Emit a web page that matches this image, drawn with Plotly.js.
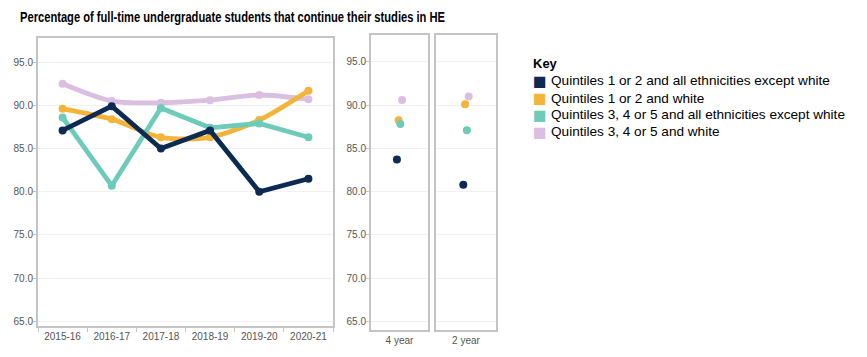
<!DOCTYPE html>
<html>
<head>
<meta charset="utf-8">
<script src="https://cdn.plot.ly/plotly-3.0.1.min.js"></script>
<style>html,body{margin:0;padding:0;background:#fff;}</style>
</head>
<body>
<div id="chart" style="width:867px;height:357px;"></div>
<script>
const years = ["2015-16","2016-17","2017-18","2018-19","2019-20","2020-21"];
const periods = ["4 year","2 year"];
const seriesNames = [
  "Quintiles 1 or 2 and all ethnicities except white",
  "Quintiles 1 or 2 and white",
  "Quintiles 3, 4 or 5 and all ethnicities except white",
  "Quintiles 3, 4 or 5 and white"
];
const colors = ["#0c2a52","#f4b43a","#6dcbb9","#dbbfe0"];

const q12NonWhite = [87.1, 89.9, 85.0, 87.1, 80.0, 81.5];
const q12White    = [89.6, 88.4, 86.3, 86.3, 88.3, 91.7];
const q345NonWhite= [88.6, 80.7, 89.7, 87.4, 87.9, 86.3];
const q345White   = [92.5, 90.5, 90.3, 90.6, 91.2, 90.7];

const fourYear = [83.7, 88.25, 87.8, 90.6];
const twoYear  = [80.8, 90.1, 87.1, 91.0];

const yearly = [q12NonWhite, q12White, q345NonWhite, q345White];
const shapes = ["linear","spline","linear","spline"];
const drawOrder = [3,1,2,0];

const traces = [];
drawOrder.forEach(i => {
  traces.push({
    type:"scatter", mode:"lines+markers", x: years, y: yearly[i],
    xaxis:"x", yaxis:"y", showlegend:false, offsetgroup:"main",
    line:{color:colors[i], width:4.8, shape:shapes[i], smoothing:0.8},
    marker:{color:colors[i], size:8},
    hoverinfo:"x+y", name: seriesNames[i]
  });
});
[[fourYear,"x2","y2",periods[0]],[twoYear,"x3","y3",periods[1]]].forEach(([vals,xa,ya,p]) => {
  vals.forEach((v,i) => {
    traces.push({
      type:"scatter", mode:"markers", x:[p], y:[v], xaxis:xa, yaxis:ya,
      showlegend:false, offsetgroup:"g"+i, alignmentgroup:"a"+xa,
      marker:{color:colors[i], size:8}, name: seriesNames[i]
    });
  });
});

const tickFont = {family:"Liberation Sans, Arial, sans-serif", size:10, color:"#555"};
const yCommon = {
  range:[64.45, 97.8], tickvals:[65,70,75,80,85,90,95],
  ticktext:["65.0","70.0","75.0","80.0","85.0","90.0","95.0"],
  showgrid:true, gridcolor:"#f1f1f1", gridwidth:1, zeroline:false,
  showline:true, mirror:true, linecolor:"#c4c4c4", linewidth:2,
  ticks:"outside", ticklen:3, tickcolor:"#c4c4c4", tickfont:tickFont,
  ticklabelstandoff:-2
};

const keyY = [81, 98, 115, 131.5];
const annotations = [{text:"<b>Key</b>", x:531/867, y:1-63/357, xref:"paper", yref:"paper",
  xanchor:"left", yanchor:"middle", showarrow:false,
  font:{family:"Liberation Sans, Arial, sans-serif", size:13, color:"#000"}}];
seriesNames.forEach((n,i) => {
  annotations.push({text:"■", x:531/867, y:1-keyY[i]/357, xref:"paper", yref:"paper",
    xanchor:"left", yanchor:"middle", showarrow:false,
    font:{family:"DejaVu Sans, sans-serif", size:14.5, color:colors[i]}});
  annotations.push({text:n, x:549/867, y:1-keyY[i]/357, xref:"paper", yref:"paper",
    xanchor:"left", yanchor:"middle", showarrow:false,
    font:{family:"Liberation Sans, Arial, sans-serif", size:13.6, color:"#000"}});
});

const layout = {
  width:867, height:357,
  margin:{l:0,r:0,t:0,b:0},
  paper_bgcolor:"#fff", plot_bgcolor:"#fff",
  scattermode:"group", scattergap:0.88,
  showlegend:false,
  font:{family:"Liberation Sans, Arial, sans-serif"},
  title:{text:"Percentage of full-time undergraduate students that continue their studies in HE",
    x:20/867, xanchor:"left", y:1-17/357, yanchor:"middle",
    font:{family:"Liberation Sans, Arial, sans-serif", size:14, weight:"bold", color:"#000"}},
  xaxis:{domain:[38/867, 333/867], anchor:"y", type:"category",
    showline:true, mirror:true, linecolor:"#c4c4c4", linewidth:2,
    ticks:"outside", tickson:"boundaries", ticklen:4, tickcolor:"#c4c4c4",
    showgrid:false, tickfont:tickFont},
  yaxis:Object.assign({}, yCommon, {domain:[1-326/357, 1-38/357], anchor:"x"}),
  xaxis2:{domain:[371/867, 428/867], anchor:"y2", type:"category",
    showline:true, mirror:true, linecolor:"#c4c4c4", linewidth:2,
    ticks:"", showgrid:false, tickfont:tickFont},
  yaxis2:Object.assign({}, yCommon, {domain:[1-330/357, 1-35/357], anchor:"x2", range:[64.0, 98.1]}),
  xaxis3:{domain:[436/867, 496/867], anchor:"y3", type:"category",
    showline:true, mirror:true, linecolor:"#c4c4c4", linewidth:2,
    ticks:"", showgrid:false, tickfont:tickFont},
  yaxis3:Object.assign({}, yCommon, {domain:[1-330/357, 1-35/357], anchor:"x3", range:[64.0, 98.1], showticklabels:false, ticks:""}),
  annotations: annotations
};
Plotly.newPlot("chart", traces, layout, {displayModeBar:false, staticPlot:true}).then(() => {
  const t = document.querySelector(".gtitle");
  if (t) { t.setAttribute("textLength", "425"); t.setAttribute("lengthAdjust", "spacingAndGlyphs"); }
});
</script>
</body>
</html>
